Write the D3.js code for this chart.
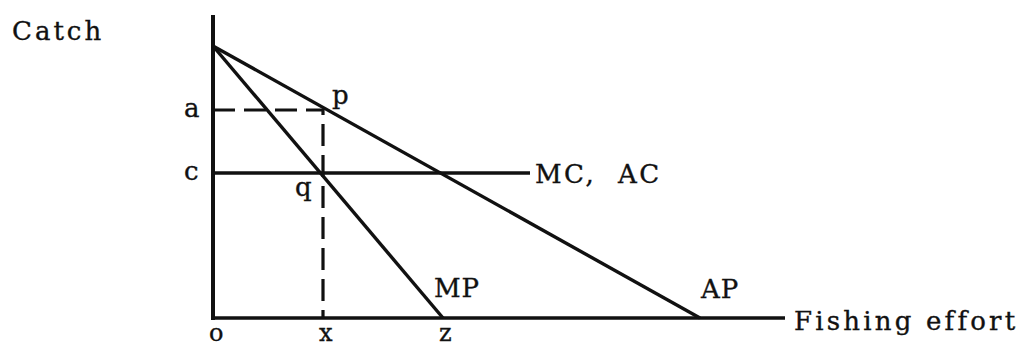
<!DOCTYPE html>
<html>
<head>
<meta charset="utf-8">
<script src="https://cdn.jsdelivr.net/npm/d3@7"></script>
<style>
  html, body { margin: 0; padding: 0; background: #ffffff; }
  svg text { font-family: "DejaVu Serif", serif; fill: #111; stroke: #111; stroke-width: 0.35px; white-space: pre; }
</style>
</head>
<body>
<svg id="chart" width="1018" height="348"></svg>
<script>
// ---- data (diagram units) ----
const yIntercept = 27.2;          // common intercept of AP and MP on the catch axis
const apEnd = 48.7;               // AP meets fishing-effort axis
const mpEnd = 23.0;               // MP meets axis at z
const mcLevel = 14.5;             // MC, AC horizontal level (c)
const mcEnd = 31.7;               // end of MC, AC line
const aLevel = 20.8;              // level a (through p)
const xPoint = 11.0;              // effort x
const xMax = 57.2;                // end of horizontal axis
const yMax = 30.3;                // top of vertical axis

const apLine = [[0, yIntercept], [apEnd, 0]];
const mpLine = [[0, yIntercept], [mpEnd, 0]];
const mcLine = [[0, mcLevel], [mcEnd, mcLevel]];
const dashedLine = [[0, aLevel], [xPoint, aLevel], [xPoint, 0]];

const xTickLabels = ["o", "x", "z"];
const xTickValues = [0, xPoint, mpEnd];
const yTickLabels = ["a", "c"];
const yTickValues = [aLevel, mcLevel];

// ---- scales ----
const x = d3.scaleLinear().domain([0, xMax]).range([213, 785]);
const y = d3.scaleLinear().domain([0, yMax]).range([318, 15]);

const svg = d3.select("#chart");
const line = d3.line().x(d => x(d[0])).y(d => y(d[1]));

// axes
svg.append("line").attr("x1", x(0)).attr("x2", x(0)).attr("y1", y(yMax)).attr("y2", y(0) + 2)
  .attr("stroke", "#111").attr("stroke-width", 4);
svg.append("line").attr("x1", x(0) - 2).attr("x2", x(xMax)).attr("y1", y(0)).attr("y2", y(0))
  .attr("stroke", "#111").attr("stroke-width", 3.5);

// lines
[apLine, mpLine, mcLine].forEach(d => {
  svg.append("path").attr("d", line(d)).attr("fill", "none")
    .attr("stroke", "#111").attr("stroke-width", 3.4);
});
svg.append("path").attr("d", line(dashedLine)).attr("fill", "none")
  .attr("stroke", "#111").attr("stroke-width", 3.2)
  .attr("stroke-dasharray", "22,9");

const fs = 26;
function label(txt, px, py, anchor, ls, size) {
  svg.append("text").attr("x", px).attr("y", py)
    .attr("text-anchor", anchor || "start")
    .attr("font-size", size || fs)
    .attr("letter-spacing", ls == null ? 2.5 : ls)
    .text(txt);
}

// axis tick labels
xTickLabels.forEach((t, i) => label(t, x(xTickValues[i]) - 4, 341, "start", 0, 24));
yTickLabels.forEach((t, i) => label(t, x(0) - 29, y(yTickValues[i]) + 7, "start", 0));

// titles
label("Catch", 12, 40, "start", 3);
label("Fishing effort", x(xMax) + 9, 330, "start", 3.2);
label("MC,  AC", x(mcEnd) + 5, y(mcLevel) + 10, "start", 2.5);
label("MP", x(mpEnd) - 9, 297, "start", 1);
label("AP", x(apEnd) + 1, 298, "start", 1);
label("p", x(xPoint) + 9, y(aLevel) - 6, "start", 0);
label("q", x(xPoint) - 28, y(mcLevel) + 23, "start", 0);
</script>
</body>
</html>
